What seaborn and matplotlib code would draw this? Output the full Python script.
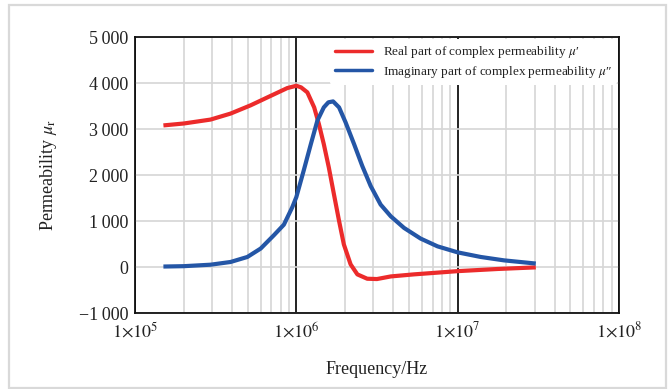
import numpy as np
import pandas as pd
import matplotlib
matplotlib.use("Agg")
import matplotlib.pyplot as plt
import seaborn as sns
from matplotlib.patches import Rectangle
from matplotlib.lines import Line2D
from matplotlib.ticker import LogLocator, NullFormatter

# ---- data ----
real_freq = [1.50e5, 2.01e5, 2.94e5, 3.91e5, 5.21e5, 6.93e5, 8.79e5, 1.00e6, 1.07e6,
             1.17e6, 1.29e6, 1.38e6, 1.48e6, 1.59e6, 1.71e6, 1.84e6, 1.97e6, 2.17e6,
             2.39e6, 2.75e6, 3.16e6, 3.85e6, 5.37e6, 1.00e7, 1.77e7, 3.05e7]
real_mu = [3078, 3120, 3205, 3335, 3515, 3720, 3890, 3940, 3905,
           3797, 3470, 3107, 2671, 2163, 1582, 1002, 492, 57,
           -161, -255, -262, -205, -160, -90, -43, -8]

imag_freq = [1.50e5, 2.01e5, 2.94e5, 3.91e5, 4.97e5, 6.01e5, 7.26e5, 8.37e5, 9.44e5,
             1.00e6, 1.11e6, 1.23e6, 1.35e6, 1.48e6, 1.58e6, 1.69e6, 1.84e6, 2.02e6,
             2.28e6, 2.56e6, 2.89e6, 3.33e6, 3.85e6, 4.65e6, 5.90e6, 7.50e6, 1.00e7,
             1.39e7, 1.94e7, 3.05e7]
imag_mu = [10, 18, 50, 109, 218, 401, 691, 920, 1300,
           1520, 2092, 2671, 3181, 3470, 3580, 3600, 3470, 3144,
           2671, 2200, 1760, 1357, 1102, 850, 617, 449, 318,
           218, 144, 75]

series_names = ["Real part of complex permeability $\\mu$\u2032",
                "Imaginary part of complex permeability $\\mu$\u2033"]
series_colors = ["#ec2b2b", "#2456a6"]

y_ticks = [-1000, 0, 1000, 2000, 3000, 4000, 5000]
y_tick_labels = ["\u22121\u2009000", "0", "1\u2009000", "2\u2009000", "3\u2009000", "4\u2009000", "5\u2009000"]
x_ticks = [1e5, 1e6, 1e7, 1e8]
x_tick_labels = [r"$1{\times}10^{5}$", r"$1{\times}10^{6}$", r"$1{\times}10^{7}$", r"$1{\times}10^{8}$"]
x_label = "Frequency/Hz"
y_label = r"Permeability $\mu_{\mathrm{r}}$"

df = pd.concat([
    pd.DataFrame({"freq": real_freq, "mu": real_mu, "series": series_names[0]}),
    pd.DataFrame({"freq": imag_freq, "mu": imag_mu, "series": series_names[1]}),
], ignore_index=True)

sns.set_theme(style="white")
plt.rcParams["font.family"] = ["Liberation Serif", "DejaVu Serif"]
plt.rcParams["mathtext.fontset"] = "stix"

fig = plt.figure(figsize=(6.71, 3.89), dpi=100)
ax = fig.add_axes([135 / 671, 1 - 313 / 389, (619 - 135) / 671, (313 - 37) / 389])

sns.lineplot(data=df, x="freq", y="mu", hue="series",
             palette=dict(zip(series_names, series_colors)),
             estimator=None, sort=True, linewidth=3.0, ax=ax, legend=False,
             solid_capstyle="butt", solid_joinstyle="round", zorder=3)

ax.set_xscale("log")
ax.set_xlim(1e5, 1e8)
ax.set_ylim(-1000, 5000)
ax.set_xticks(x_ticks)
ax.set_xticklabels(x_tick_labels)
ax.xaxis.set_minor_locator(LogLocator(base=10, subs=range(2, 10)))
ax.xaxis.set_minor_formatter(NullFormatter())
ax.set_yticks(y_ticks)
ax.set_yticklabels(y_tick_labels)

ax.set_axisbelow(True)
ax.grid(which="minor", axis="x", color="#d6d6d6", linewidth=1.2)
ax.grid(which="major", axis="y", color="#d6d6d6", linewidth=1.2)
ax.grid(which="major", axis="x", color="#111111", linewidth=1.3)

ax.tick_params(which="both", length=0, labelsize=13, colors="#222222")
ax.tick_params(axis="x", pad=6)
ax.tick_params(axis="y", pad=5)
for s in ax.spines.values():
    s.set_color("#111111")
    s.set_linewidth(1.3)

ax.set_xlabel(x_label, fontsize=13, color="#222222", labelpad=14)
ax.set_ylabel(y_label, fontsize=13, color="#222222", labelpad=14)

handles = [Line2D([0], [0], color=c, lw=2.5) for c in series_colors]
leg = ax.legend(handles, series_names, loc="upper right", bbox_to_anchor=(1.0, 1.0),
                fontsize=9.5, frameon=True, facecolor="white", edgecolor="none",
                framealpha=1.0, handlelength=2.8, borderaxespad=0.15, labelspacing=0.25)
leg.set_zorder(5)
for t in leg.get_texts():
    t.set_color("#222222")

fig.patches.append(Rectangle((9 / 671, 1 - 388 / 389), (666 - 9) / 671, (388 - 5) / 389,
                             transform=fig.transFigure, fill=False,
                             edgecolor="#d9d9d9", linewidth=1.6))

fig.savefig("out.png", dpi=100, facecolor="white")
